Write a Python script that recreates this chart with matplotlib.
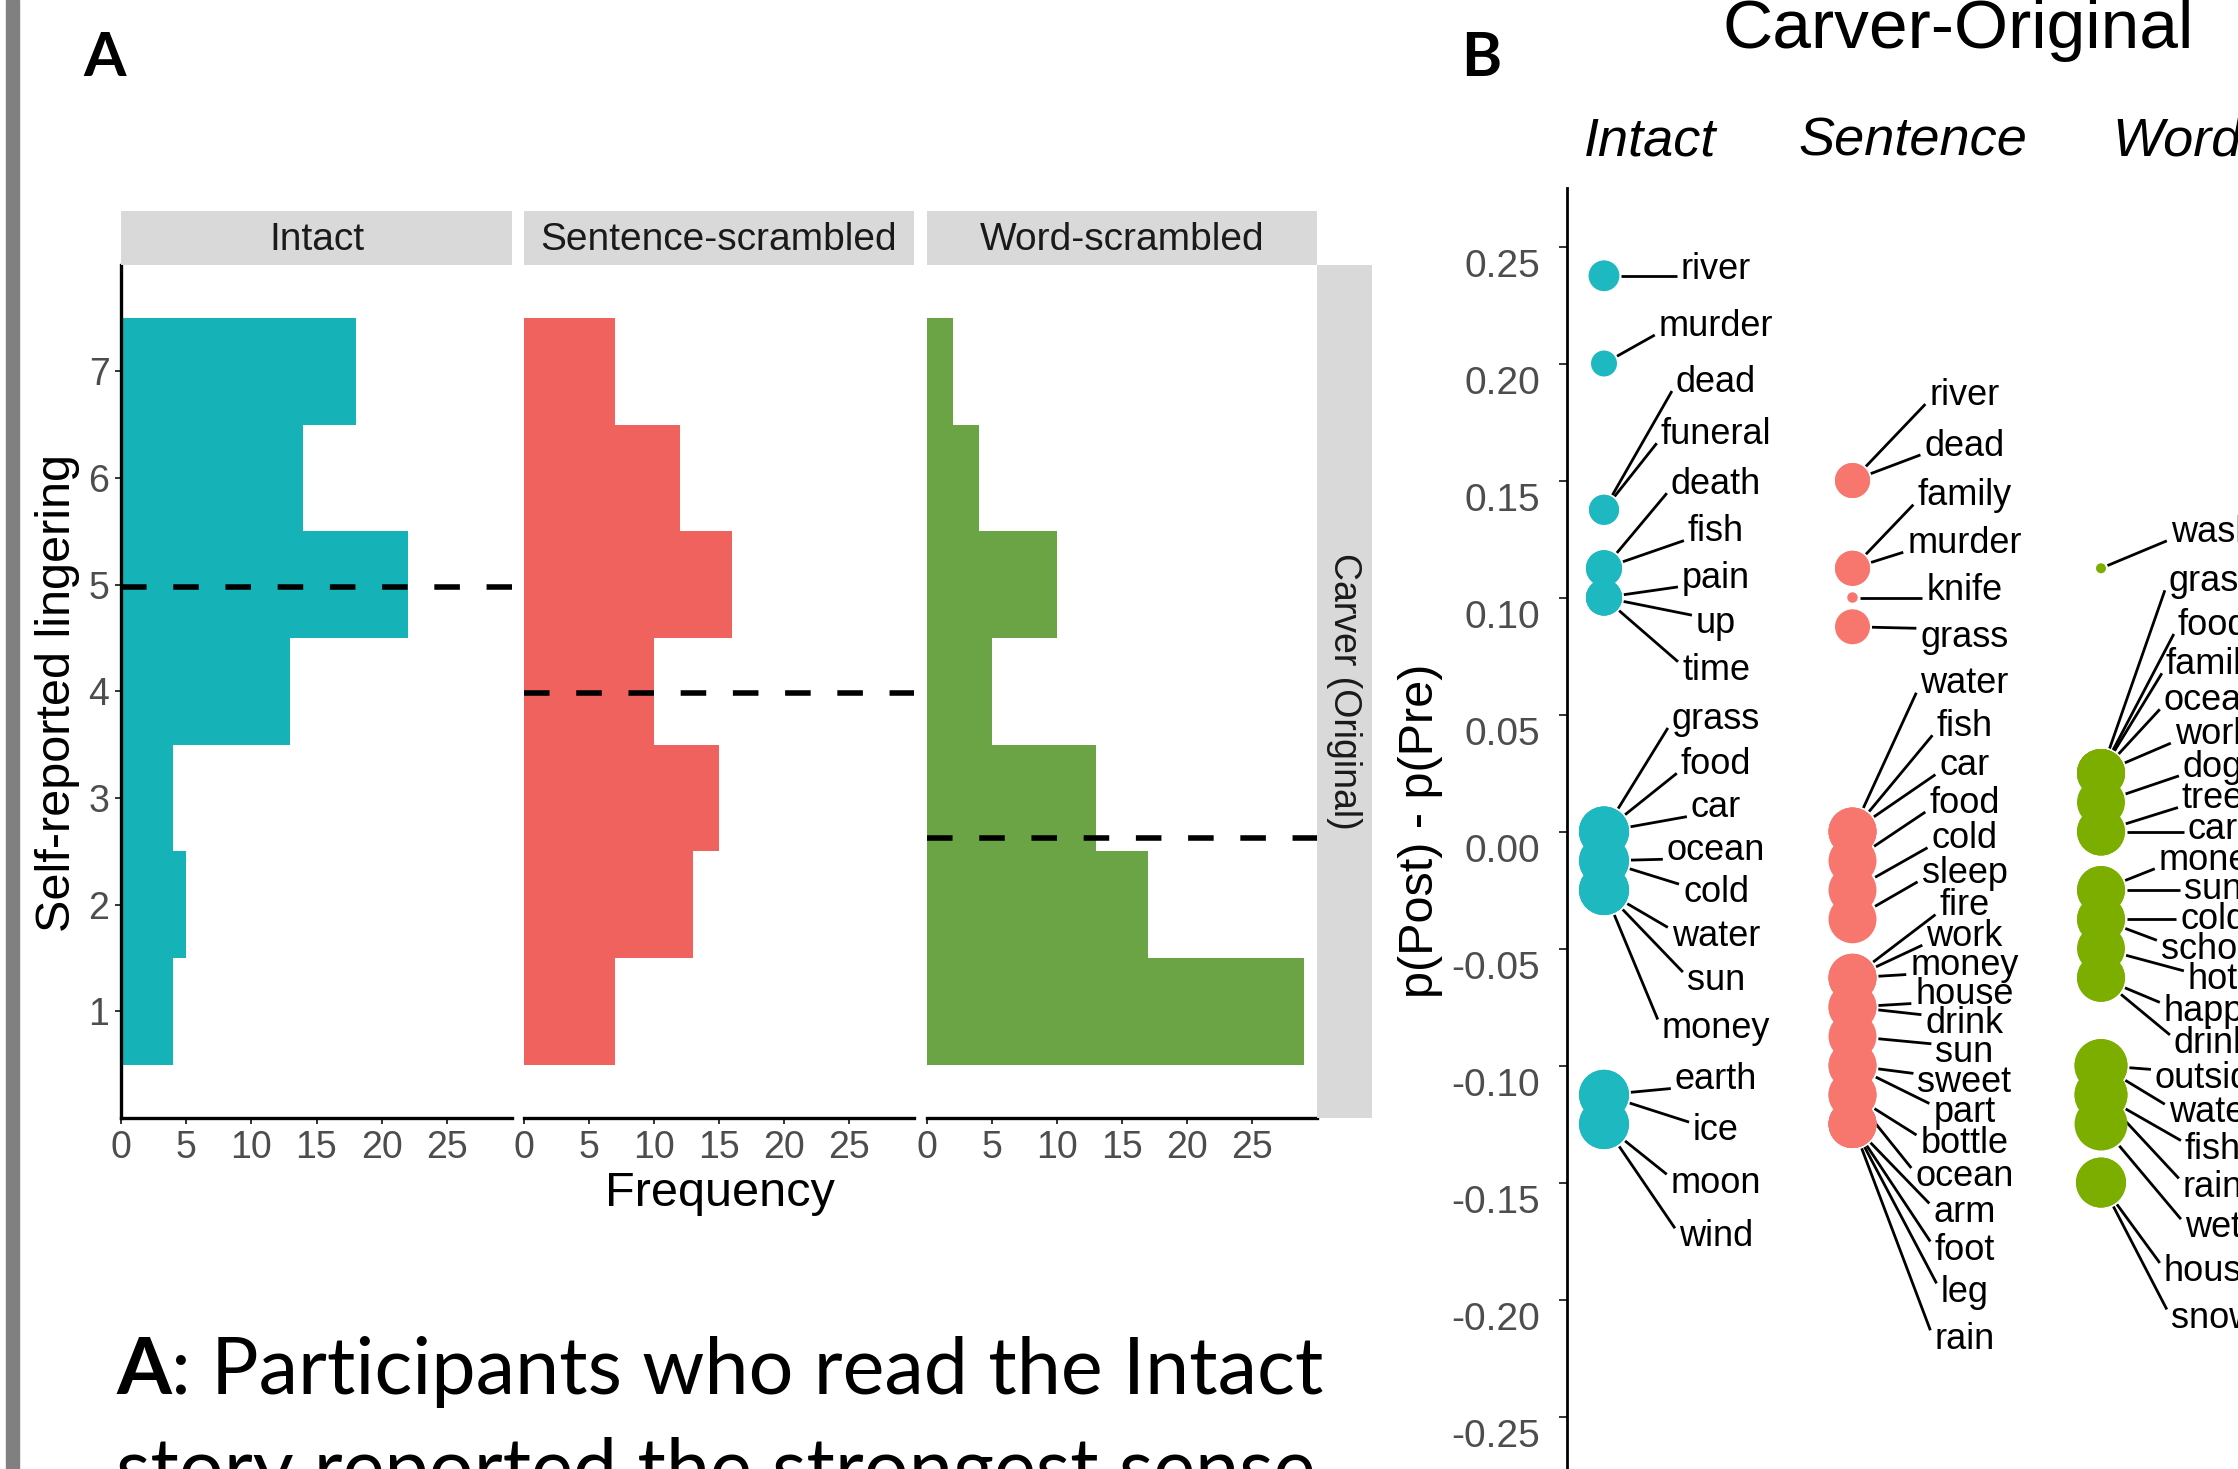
"""Lingering ratings (panel A) and word-association change (panel B), Carver-Original."""
import numpy as np
import matplotlib
matplotlib.use('Agg')  # no display
import matplotlib.pyplot as plt
from matplotlib.patches import Rectangle
from matplotlib.transforms import ScaledTranslation

plt.rcParams['font.family'] = ['Liberation Sans', 'DejaVu Sans']
plt.rcParams['axes.unicode_minus'] = False

# ---- Panel A: self-reported lingering, counts per rating
ratings = [1, 2, 3, 4, 5, 6, 7]
conditions = ['Intact', 'Sentence-scrambled', 'Word-scrambled']
intact_counts = [4, 5, 4, 13, 22, 14, 18]
sentence_counts = [7, 13, 15, 10, 16, 12, 7]
word_counts = [29, 17, 13, 5, 10, 4, 2]
freq_ticks = [0, 5, 10, 15, 20, 25]
row_label = 'Carver (Original)'

# ---- Panel B: p(Post) - p(Pre) per word, with a size value per word
columns = ['Intact', 'Sentence', 'Word']
intact_words = ['river', 'murder', 'dead', 'funeral', 'death', 'fish', 'pain', 'up', 'time',
                'grass', 'food', 'car', 'ocean', 'cold', 'water', 'sun', 'money',
                'earth', 'ice', 'moon', 'wind']
intact_delta = [0.2375, 0.2, 0.1375, 0.1375, 0.1125, 0.1125, 0.1, 0.1, 0.1,
                0.0, 0.0, 0.0, -0.0125, -0.0125, -0.025, -0.025, -0.025,
                -0.1125, -0.1125, -0.125, -0.125]
intact_n = [38, 27, 36, 36, 52, 52, 52, 52, 52,
            100, 100, 100, 100, 100, 100, 100, 100, 100, 100, 100, 100]

sentence_words = ['river', 'dead', 'family', 'murder', 'knife', 'grass', 'water', 'fish', 'car',
                  'food', 'cold', 'sleep', 'fire', 'work', 'money', 'house', 'drink', 'sun',
                  'sweet', 'part', 'bottle', 'ocean', 'arm', 'foot', 'leg', 'rain']
sentence_delta = [0.15, 0.15, 0.1125, 0.1125, 0.1, 0.0875, 0.0, 0.0, 0.0,
                  -0.0125, -0.025, -0.0375, -0.0625, -0.0625, -0.0625, -0.075, -0.075, -0.0875,
                  -0.1, -0.1, -0.1125, -0.1125, -0.125, -0.125, -0.125, -0.125]
sentence_n = [49, 49, 49, 49, 4.4, 49] + [92] * 20

word_words = ['wash', 'grass', 'food', 'family', 'ocean', 'work', 'dog', 'tree', 'car',
              'money', 'sun', 'cold', 'school', 'hot', 'happy', 'drink',
              'outside', 'water', 'fish', 'rain', 'wet', 'house', 'snow']
word_delta = [0.1125, 0.025, 0.025, 0.025, 0.025, 0.025, 0.0125, 0.0, 0.0,
              -0.025, -0.025, -0.0375, -0.0375, -0.05, -0.0625, -0.0625,
              -0.1, -0.1, -0.1125, -0.1125, -0.125, -0.15, -0.15]
word_n = [4] + [92] * 15 + [112] * 5 + [100] * 2
delta_ticks = [-0.25, -0.2, -0.15, -0.1, -0.05, 0.0, 0.05, 0.1, 0.15, 0.2, 0.25]

HIST_COLORS = ['#15B2B7', '#F0625E', '#6BA444']
DOT_COLORS = ['#1DB8C0', '#F7776E', '#7CAE00']
STRIP = '#D9D9D9'
TICK_TXT = '#4D4D4D'

W, H = 2238, 1469
fig = plt.figure(figsize=(W / 100, H / 100), dpi=100)
fig.patch.set_facecolor('white')


def px_axes(left, top, right, bottom, **kw):
    """Add axes placed in figure pixels (origin top-left)."""
    return fig.add_axes([left / W, 1 - bottom / H, (right - left) / W, (bottom - top) / H], **kw)


def fig_text(x, y, s, **kw):
    return fig.text(x / W, 1 - y / H, s, **kw)


def spread_labels(values, gap, pull=0.03, n_iter=8000):
    """1-D label repel: springs between neighbours, weak pull to own value."""
    v = np.asarray(values, float)
    p = v.copy()
    for _ in range(n_iter):
        push = np.clip(gap - (p[:-1] - p[1:]), 0, None)
        grad = pull * (p - v)
        grad[:-1] -= push
        grad[1:] += push
        p -= 0.2 * grad
    return p


# left page border
fig.patches.append(Rectangle((6 / W, 0), 13 / W, 1, transform=fig.transFigure,
                             color='#808080', zorder=0))

# ---------------- Panel A
panel_x = [(121, 512), (523.5, 914.5), (926.5, 1317)]
A_TOP, A_BOTTOM = 264.5, 1118
all_counts = [intact_counts, sentence_counts, word_counts]

for i, (name, counts) in enumerate(zip(conditions, all_counts)):
    l, r = panel_x[i]
    ax = px_axes(l, A_TOP, r, A_BOTTOM)
    ax.barh(ratings, counts, height=1.0, color=HIST_COLORS[i], linewidth=0)
    mean_rating = np.dot(ratings, counts) / np.sum(counts)
    ax.axhline(mean_rating, color='black', lw=4.0, dashes=(4.6, 4.8))
    ax.set_xlim(0, 30)
    ax.set_ylim(0, 8)
    ax.spines['top'].set_visible(False)
    ax.spines['right'].set_visible(False)
    ax.spines['bottom'].set_linewidth(2.4)
    ax.set_xticks(freq_ticks)
    ax.tick_params(axis='both', length=4.3, width=1.4, color='#333333',
                   labelsize=27, labelcolor=TICK_TXT, pad=4)
    if i == 0:
        ax.spines['left'].set_linewidth(2.4)
        ax.set_yticks(ratings)
    else:
        ax.spines['left'].set_visible(False)
        ax.set_yticks([])

    strip = px_axes(l, 211, r, A_TOP)
    strip.set_facecolor(STRIP)
    strip.set_xticks([])
    strip.set_yticks([])
    for sp in strip.spines.values():
        sp.set_visible(False)
    strip.text(0.5, 0.46, name, ha='center', va='center', fontsize=28,
               color='#1A1A1A', transform=strip.transAxes)

side = px_axes(1317, A_TOP, 1372, A_BOTTOM)
side.set_facecolor(STRIP)
side.set_xticks([])
side.set_yticks([])
for sp in side.spines.values():
    sp.set_visible(False)
side.text(0.5, 0.5, row_label, rotation=270, ha='center', va='center', fontsize=27,
          color='#1A1A1A', transform=side.transAxes)

fig_text(719.6, 1194, 'Frequency', ha='center', va='center', fontsize=35)
fig_text(58, 693, 'Self-reported lingering', rotation=90, ha='center', va='center', fontsize=35)

# ---------------- Panel B
axb = px_axes(1567, 188, W, H)
axb.set_ylim(-0.2724, 0.275)
axb.set_xlim(0.8511, 3.5513)
for sp in ['top', 'right', 'bottom']:
    axb.spines[sp].set_visible(False)
axb.spines['left'].set_linewidth(2.0)
axb.set_xticks([])
axb.set_yticks(delta_ticks)
axb.set_yticklabels([f'{t:.2f}' for t in delta_ticks])
axb.tick_params(axis='y', length=5.8, width=1.4, color='#333333',
                labelsize=28, labelcolor=TICK_TXT, pad=13.5)
# the original tick labels sit a little below their ticks
shift_down = ScaledTranslation(0, -16 / 100, fig.dpi_scale_trans)
for lab in axb.get_yticklabels():
    lab.set_transform(lab.get_transform() + shift_down)
axb.patch.set_alpha(0)

DOT_SCALE = 3.6   # marker diameter in points per sqrt(size value)
LABEL_NUDGE = 0.4507
label_gaps = [0.0245, 0.0228, 0.0216]
col_data = [(intact_words, intact_delta, intact_n),
            (sentence_words, sentence_delta, sentence_n),
            (word_words, word_delta, word_n)]

label_items = []
for j, (words, delta, n) in enumerate(col_data):
    xpos = j + 1
    diam_pt = DOT_SCALE * np.sqrt(n)
    axb.scatter([xpos] * len(delta), delta, s=diam_pt ** 2, color=DOT_COLORS[j],
                linewidths=0, zorder=3, clip_on=False)
    label_y = spread_labels(delta, label_gaps[j])
    for w, d, dp, ly in zip(words, delta, diam_pt, label_y):
        t = axb.text(xpos + LABEL_NUDGE, ly, w, ha='center', va='center', fontsize=26,
                     color='black', zorder=4)
        label_items.append((xpos, d, dp * 100 / 72, t))

# column headers and titles
for name, cx in zip(columns, [1650, 1913, 2177]):
    fig_text(cx, 156, name, ha='center', va='baseline', fontsize=39, style='italic')
fig_text(1958, 48, 'Carver-Original', ha='center', va='baseline', fontsize=50)
fig_text(1420, 831, 'p(Post) - p(Pre)', rotation=90, ha='center', va='center', fontsize=35)

# panel letters and caption
fig_text(83, 76, 'A', ha='left', va='baseline', fontsize=44, weight='bold', family='Lato')
fig_text(1461, 76, 'B', ha='left', va='baseline', fontsize=44, weight='bold', family='Lato')
cap_a = fig_text(116, 1394, 'A', ha='left', va='baseline', fontsize=57, weight='bold',
                 family='Lato')
fig_text(116, 1494, 'story reported the strongest sense', ha='left', va='baseline',
         fontsize=57, family='Lato')

# leader segments from dot edge to the label box
fig.canvas.draw()
bb_a = cap_a.get_window_extent()
fig.text(bb_a.x1 / W, 1 - 1394 / H, ': Participants who read the Intact', ha='left',
         va='baseline', fontsize=57, family='Lato')

to_data = axb.transData.inverted()
for xpos, d, diam_px, t in label_items:
    cx, cy = axb.transData.transform((xpos, d))
    bb = t.get_window_extent()
    ex = bb.x0 - 4
    mid = (bb.y0 + bb.y1) / 2
    half = (bb.y1 - bb.y0) * 0.25
    ey = np.clip(cy, mid - half, mid + half)
    dx, dy = ex - cx, ey - cy
    dist = np.hypot(dx, dy)
    rad = diam_px / 2 + 2
    sx, sy = cx + dx / dist * rad, cy + dy / dist * rad
    (x0, y0), (x1, y1) = to_data.transform([(sx, sy), (ex, ey)])
    axb.plot([x0, x1], [y0, y1], color='black', lw=2.0, solid_capstyle='butt',
             zorder=2, clip_on=False)

fig.savefig('out.png', dpi=100, facecolor='white')
plt.close(fig)
